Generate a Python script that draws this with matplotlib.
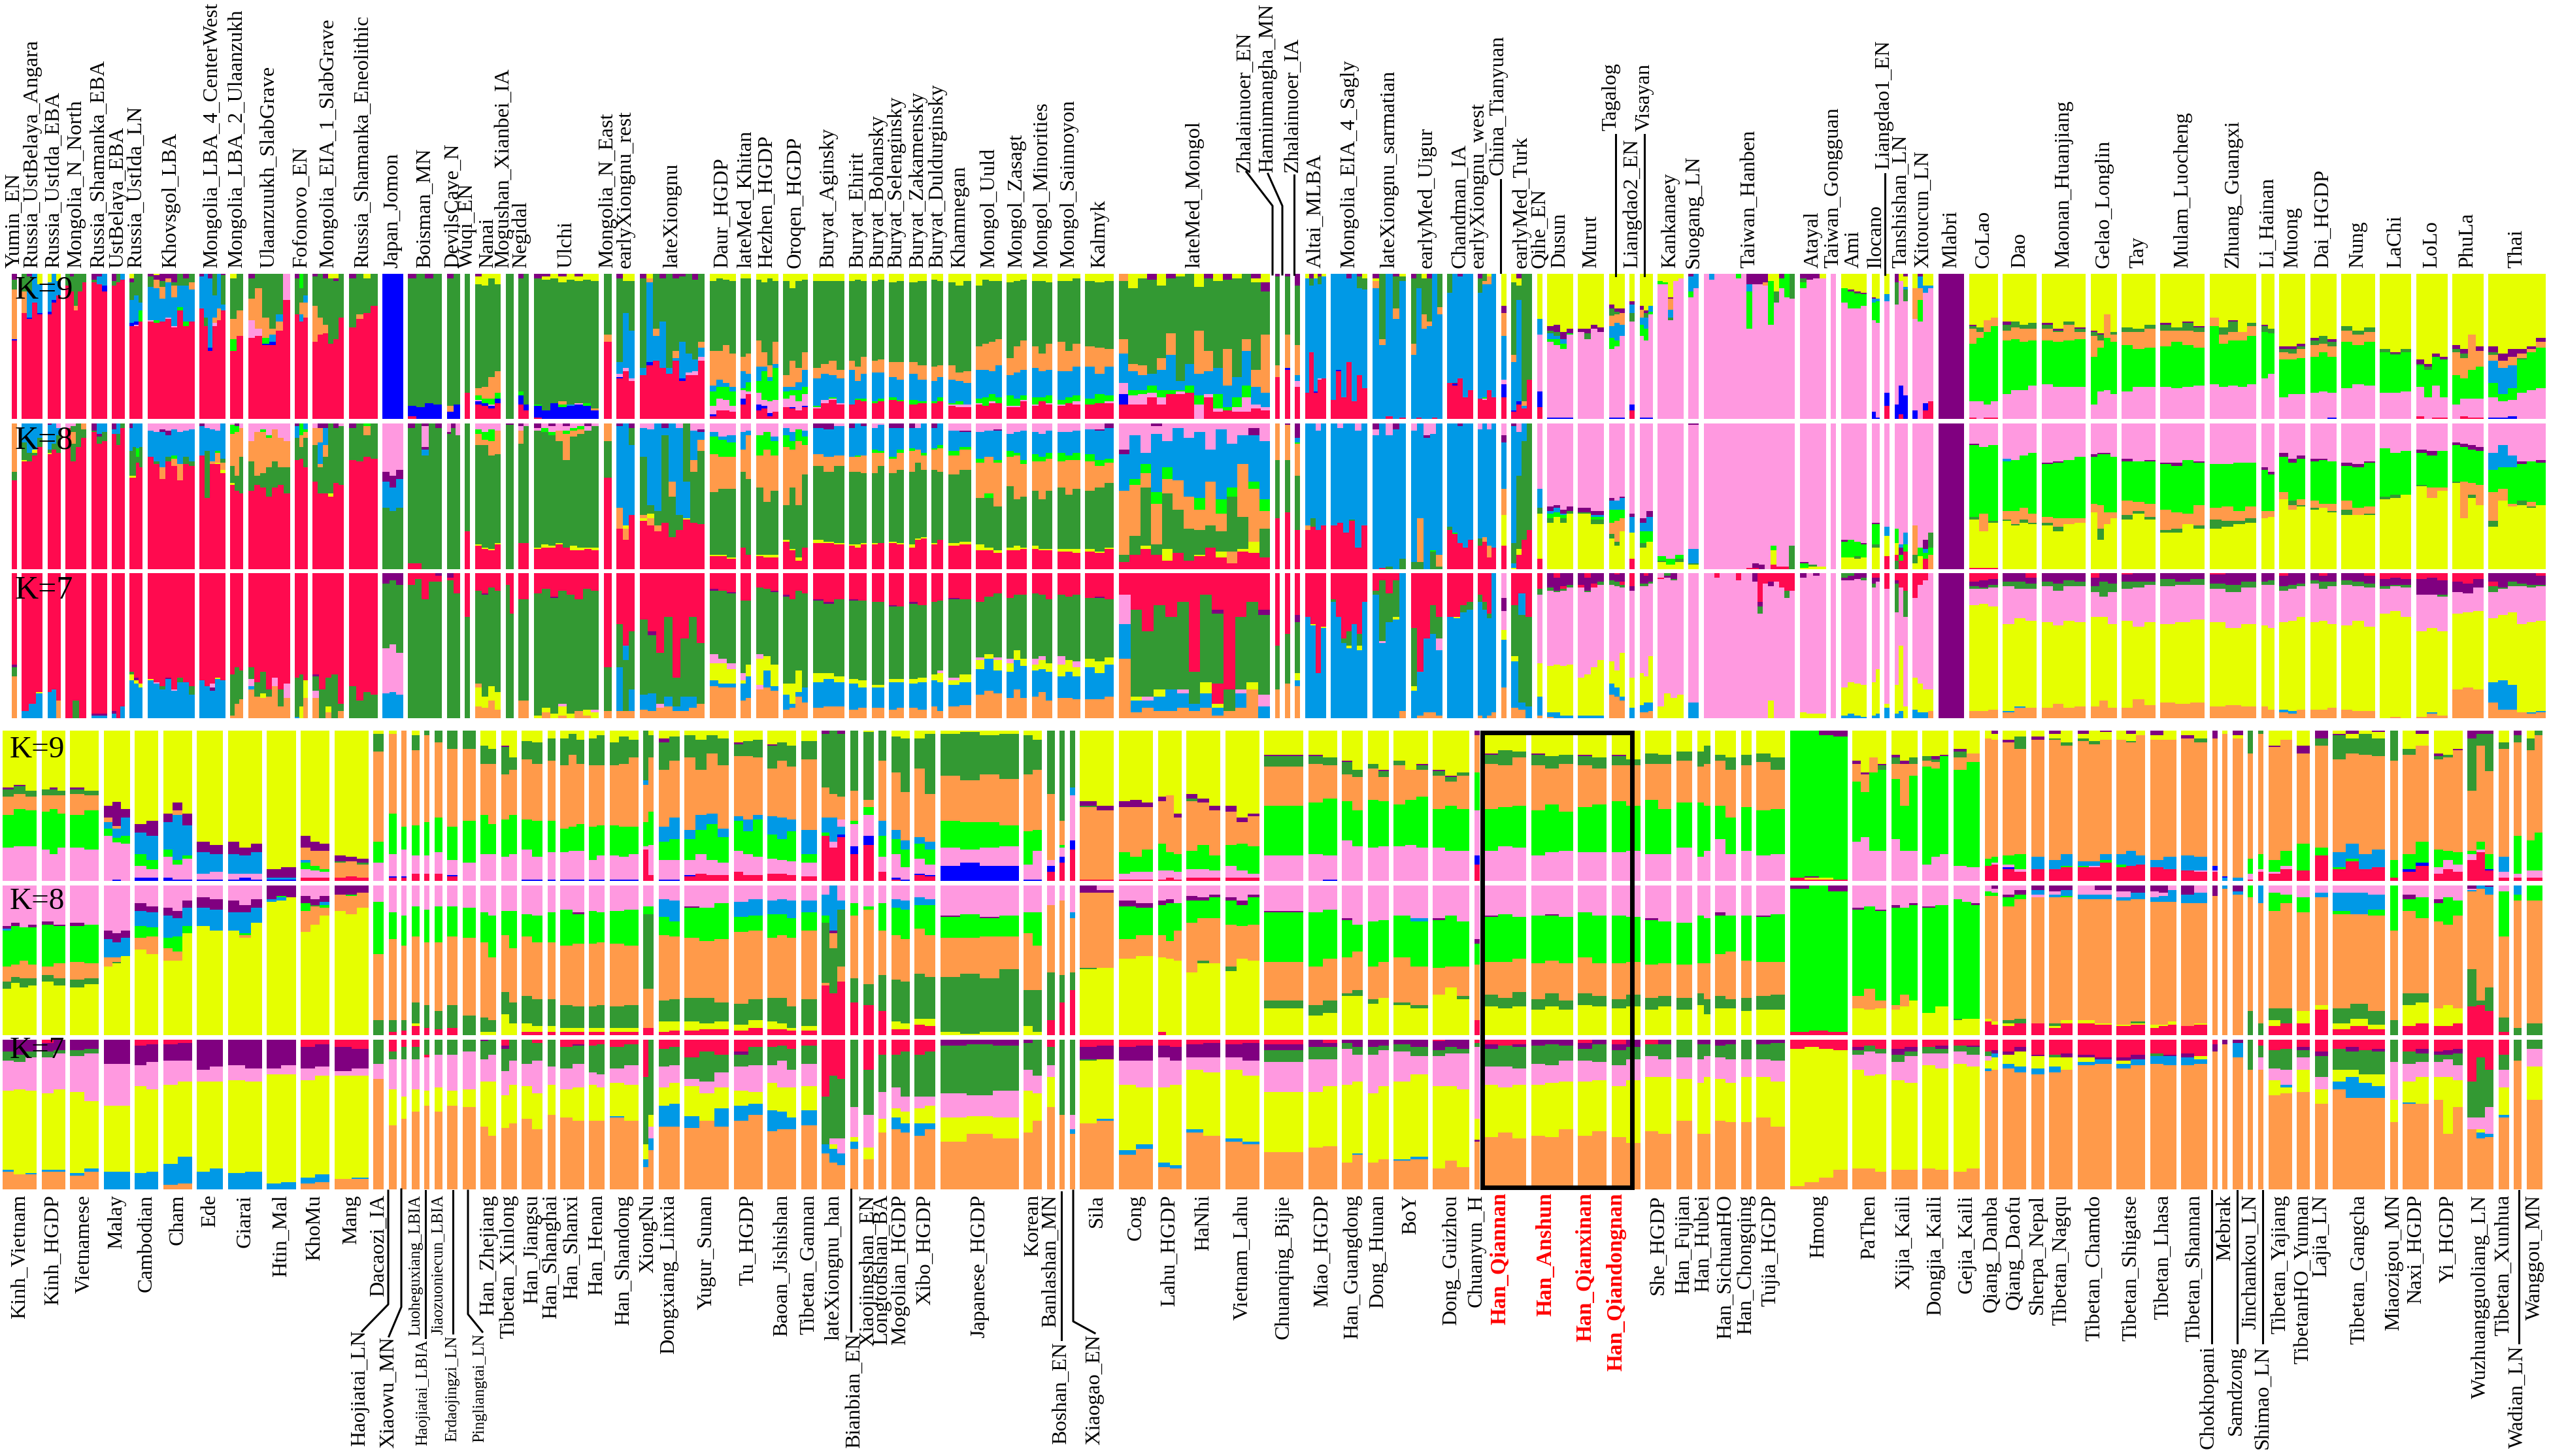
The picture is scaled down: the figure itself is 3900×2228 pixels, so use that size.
import matplotlib
matplotlib.use('Agg')
import matplotlib.pyplot as plt

plt.rcParams['font.family'] = ['Liberation Serif', 'DejaVu Serif']

# ancestry colours
colores = {'u': '#800080', 'y': '#E6FF00', 'g': '#339933', 'o': '#FF9A4A', 'c': '#0099E6',
           'l': '#00FF00', 'p': '#FF99E0', 'b': '#0000FF', 'r': '#FF0A4F'}

top_names = ['Yumin_EN', 'Russia_UstBelaya_Angara', 'Russia_UstIda_EBA', 'Mongolia_N_North', 'Russia_Shamanka_EBA',
             'UstBelaya_EBA', 'Russia_UstIda_LN', 'Khovsgol_LBA', 'Mongolia_LBA_4_CenterWest', 'Mongolia_LBA_2_Ulaanzukh',
             'Ulaanzuukh_SlabGrave', 'Fofonovo_EN', 'Mongolia_EIA_1_SlabGrave', 'Russia_Shamanka_Eneolithic', 'Japan_Jomon',
             'Boisman_MN', 'DevilsCave_N', 'Wuqi_EN', 'Nanai', 'Mogushan_Xianbei_IA', 'Negidal', 'Ulchi', 'Mongolia_N_East',
             'earlyXiongnu_rest', 'lateXiongnu', 'Daur_HGDP', 'lateMed_Khitan', 'Hezhen_HGDP', 'Oroqen_HGDP', 'Buryat_Aginsky',
             'Buryat_Ehirit', 'Buryat_Bohansky', 'Buryat_Selenginsky', 'Buryat_Zakamensky', 'Buryat_Duldurginsky', 'Khamnegan',
             'Mongol_Uuld', 'Mongol_Zasagt', 'Mongol_Minorities', 'Mongol_Sainnoyon', 'Kalmyk', 'lateMed_Mongol',
             'Zhalainuoer_EN', 'Haminmangha_MN', 'Zhalainuoer_IA', 'Altai_MLBA', 'Mongolia_EIA_4_Sagly', 'lateXiongnu_sarmatian',
             'earlyMed_Uigur', 'Chandman_IA', 'earlyXiongnu_west', 'China_Tianyuan', 'earlyMed_Turk', 'Qihe_EN', 'Dusun', 'Murut',
             'Tagalog', 'Liangdao2_EN', 'Visayan', 'Kankanaey', 'Suogang_LN', 'Taiwan_Hanben', 'Atayal', 'Taiwan_Gongguan', 'Ami',
             'Ilocano', 'Liangdao1_EN', 'Tanshishan_LN', 'Xitoucun_LN', 'Mlabri', 'CoLao', 'Dao', 'Maonan_Huanjiang',
             'Gelao_Longlin', 'Tay', 'Mulam_Luocheng', 'Zhuang_Guangxi', 'Li_Hainan', 'Muong', 'Dai_HGDP', 'Nung', 'LaChi', 'LoLo',
             'PhuLa', 'Thai']
top_sizes = [2, 8, 5, 8, 6, 5, 5, 18, 10, 5, 16, 5, 12, 11, 8, 13, 5, 2, 10, 3, 4, 25, 3, 7, 25, 10, 4, 8.5, 9.6, 12,
             6.8, 4.8, 5.8, 6.7, 4.6, 8.7, 10, 7.7, 8, 8.8, 11, 58, 2, 2, 2, 8, 14, 13, 12, 10, 7, 2, 8, 2, 10, 10,
             6, 2, 5, 10, 4, 35, 10, 2, 10, 3, 2, 5, 8, 10, 11, 13, 17, 10, 13, 17, 18, 5, 10, 10, 13, 12, 12, 12, 22]

top_k9 = [
    "u4 g7 o34 b1 r54",
    "g12 o15 r73/u2 g10 c18 b1 r69/c20 r80/y7 c20 b1 r72",
    "y6 c20 b2 r72/c18 b2 r80/y5 c10 r85",
    "g8 r92/u2 g10 r88/g22 o3 r75/g12 r88/g6 r94",
    "u4 g2 r94/u2 c5 r93/c8 b4 r88",
    "u5 g3 r92/g6 r94/c4 r96",
    "y3 u3 g12 c16 b2 r64/g15 c18 b2 p1 r64/g20 c5 l8 r67",
    "u2 g7 c23 p1 r67/y1 u3 o6 c22 l2 r66/u5 g4 o8 c16 r67/u3 o3 c24 p1 r69/u6 g2 o8 c20 p1 r63/g8 c15 l2 r75/u3 g5 c25 l3 r64/g6 o5 c22 r67",
    "u2 c22 r76/c30 g6 r64/u3 c48 b2 r47/g15 c15 o4 p2 r64/c24 o8 r68/u1 g20 c4 r75",
    "y3 g28 o14 l8 r47/g25 o18 r57",
    "u3 g14 o15 p12 r56/g10 o28 p5 r57/g30 o14 l4 b1 r51/g38 o4 c5 b2 r51/g28 c5 o6 r61/p18 r82",
    "u3 g25 r72/l10 g10 o8 c5 r67/g15 c5 o10 r70",
    "u2 g20 o25 r53/g30 o12 r58/u3 g32 o6 r59/y3 g45 r52/y3 u2 g40 r55/g30 r70",
    "u3 g34 r63/g28 o3 r69/y3 g24 r73/g22 r78",
    "b100",
    "u3 g88 b7 r2/g92 b8/u3 g86 b11/g90 b10",
    "u3 g88 o4 b5/g90 b10",
    "g82 r18",
    "u2 y5 g72 o5 l3 p1 b2 r10/y8 g70 o8 l3 b2 r9/y3 g68 o15 l4 p1 b2 r7/y7 g60 o15 l4 b3 r11",
    "g100",
    "u3 g78 l3 b6 r10/g90 b4 r6",
    "u3 g87 l1 b8 r1/u2 y2 g90 b6/y3 g86 b11/u2 y4 g82 o2 l2 b8/y4 g86 c1 b9/u2 y3 g84 p1 b10/y4 g85 l2 b9/y5 g88 o1 b6",
    "g42 o5 r53",
    "u3 g58 c8 p2 b1 r28/y5 g22 c38 p2 r33/y5 g34 c33 p2 r26",
    "u3 g62 c5 r30/y3 o3 c55 b2 r37/g38 o5 c17 r40/u3 g30 c32 r35/g65 c4 r31/u3 g50 o5 c2 r40/u2 g45 c25 b2 r26/g55 c13 p2 r30/u4 g55 c8 p3 r30/g47 o4 c6 p3 r40",
    "y5 g48 o24 c4 l10 p6 b1 r2/y3 g50 o20 c5 l8 p8 r6/y4 g45 o26 c3 l9 p7 r6/y5 g50 o23 c3 l10 p4 r5",
    "y3 g54 o10 c12 l1 p6 b4 r10/y3 g52 o14 c6 l6 p2 r17",
    "y4 g42 o18 c10 l8 p8 b4 r6/y6 g48 o10 c3 l20 p4 b2 r7/y3 g60 o8 c3 l14 p8 b2 r2/y5 g42 o15 c3 l22 p8 r5",
    "y5 g65 o8 c3 l5 p6 r8/y10 g50 o18 c2 l4 p8 b1 r7/y5 g60 o10 c5 l8 p6 r6/y4 g50 o12 c12 l5 p8 b1 r8",
    "y5 g60 o7 c19 l1 p1 r7/y5 g57 o7 c18 p2 r11/y5 g55 o10 c15 l1 p1 r13/y5 g61 o6 c17 p1 r10",
    "y5 g55 o6 c24 r10/y4 g60 o10 c12 l1 r13/y5 g52 o12 c17 l2 r12",
    "y5 g55 o8 c20 l1 r11/y4 g55 o9 c18 l2 r12",
    "y6 g55 o10 c14 l2 r13/y5 g56 o12 c14 l1 r12",
    "y6 g55 o8 c18 l3 r10/y5 g58 o10 c15 l1 r11",
    "y4 g60 o10 c14 l1 r11/y5 g58 o8 c14 l3 r12",
    "y6 g57 o10 c16 l1 p1 r9/y8 g60 o6 c14 l2 p2 r8/y5 g62 o8 c15 p2 r8",
    "y8 g42 o16 c20 l3 p1 r10/y4 g44 o18 c19 l6 r9/y5 g42 o20 c16 l5 p1 r11/y5 g40 o18 c22 l4 r11",
    "y6 g52 o12 c14 l7 p1 r8/y5 g45 o18 c18 l5 p1 r8/y4 g42 o20 c18 l3 p1 r12",
    "y5 g45 o15 c20 l5 p1 r9/y5 g50 o12 c18 l3 r12/y6 g42 o18 c18 l5 p1 r10",
    "y5 g42 o20 c20 l3 p1 r9/y5 g48 o14 c18 l4 r11/y3 g45 o16 c20 l4 p2 r10",
    "y5 g45 o14 c22 l4 r10/y6 g45 o18 c14 l6 r11/y5 g47 o12 c20 l4 p1 r11",
    "o5 g40 o10 c20 p8 b7 r10/y10 g52 o5 c13 l4 p6 r10/y3 g60 o7 c10 l3 p7 r10/u4 g65 c8 l5 p3 r15/y8 g50 o8 c14 l5 p5 r10/u3 g38 o15 c24 l3 r17/y2 g72 c6 l1 p2 r17/g62 c15 l5 r18/y9 g30 o30 c15 l6 p10/u3 g50 o14 c16 p2 r15/y5 g60 c18 l10 p2 r5/u4 g48 o25 c15 l2 r6/y3 g68 c14 l7 p3 r5/g45 o8 c24 l8 p10 r5/u3 y3 g60 o12 c12 p3 r7/y6 u6 g30 o40 c10 p2 r6",
    "u2 g61 o8 r29",
    "u2 g40 o23 b1 r34",
    "u8 g41 o21 c4 p4 r22",
    "y3 c79 r18/u3 g5 c46 r46/y3 c78 b1 r18/u2 g5 c65 p1 r27/y2 c70 r28",
    "c87 r13/c66 b1 r33/c85 r15/u3 c58 r39/c88 r12/u2 g8 c60 r30/y3 g8 c68 r21",
    "u3 y2 o5 c90/g45 o4 c51/c98 r2/u2 g22 o7 c69/y2 g3 c94 r1",
    "u3 g45 o8 c44/g10 c89 r1/y3 g25 o10 c62/u3 g30 o3 c64/c99 r1/g23 o5 c72",
    "g13 c62 r25/c75 u1 b1 r23/u2 c70 r28/c85 r15/c80 r20",
    "u3 g10 c73 r14/g5 o2 c78 l1 p1 r13/y2 o5 c73 r20/c85 r15",
    "y22 u5 o16 c30 p3 b9 r15",
    "y6 g50 o5 c33 b1 r5/u3 y5 g10 c70 b2 r10/g88 o3 c2 r7/g73 r27",
    "y31 c11 p39 b11 r8",
    "y36 u3 g2 c4 l2 p52 b1/y35 u5 g3 c2 l4 p50 b1/y40 u5 c3 l4 p47 b1/y38 u3 l1 p57 b1",
    "y38 u2 p60/y38 u3 g4 p55/y35 u3 p62/y37 u3 p60",
    "y21 u3 g5 o7 c8 l8 p47 b1/y24 u2 g2 o6 c12 l4 p49 b1/y24 u3 o8 c8 p56 b1",
    "y19 u2 c6 g6 p57 b4 r6",
    "y22 u3 o5 c5 l8 p56 b1/y25 u2 g3 c8 l8 p53 b1/y22 c4 l2 p71 b1",
    "y5 l2 p93/y6 l1 p93/y16 u1 o8 c5 g2 p68/y5 p95/y3 p97",
    "u2 c10 l4 p84/c10 p90",
    "p100/c4 p96/p100/p100/p100/p100/l3 p97/p100/u7 c5 l26 p62/u7 p93/u7 p93/u6 o2 p92/y5 l30 p65/y12 g8 p80/u3 l7 p90/l16 p84/g17 p83",
    "u3 g3 l4 p90/u4 p96/u3 p97/y3 p97",
    "p100",
    "y10 l10 p80/y11 u1 l12 p76/y12 u1 g1 l10 p76/y13 u1 l8 p78",
    "y16 u1 c3 l12 p63 b5/y17 c2 l15 p65 b1",
    "y14 c5 p63 b9 r9",
    "u6 g15 p69 b10/y5 p72 b20 r3/u2 y7 c2 g8 p65 b16",
    "y10 o21 p63 b6/u2 c8 o8 l15 p67/y8 c5 p76 b5 r6/y8 c2 p78 r12",
    "u100",
    "y35 u1 g2 o10 l40 p11 r1/y37 g3 o4 l44 p12/y32 o8 l50 p9 r1/y30 o6 l52 p11 r1",
    "y33 u2 g4 o7 l37 p17/y33 g4 o8 l35 p20/y35 g3 o9 l33 p20/y34 g4 o8 l31 p23",
    "y34 u1 g3 o8 l30 p24/y38 u1 g1 o7 l31 p22/y33 g2 o11 l32 p22/y37 u1 g2 o5 l33 p22",
    "y39 u1 g3 o14 l33 p10/y41 u1 g4 o5 l30 p19/y28 o16 l36 p20/y40 g2 o5 l36 p17",
    "y37 g3 o9 l32 p19/y38 g2 o12 l26 p22/y35 g3 o13 l27 p22",
    "y34 u1 g4 o11 l28 p22/y37 g2 o8 l32 p21/y33 u1 g5 o10 l29 p22/y36 u1 g3 o11 l26 p23",
    "y30 o6 l40 p24/y37 g5 o6 l30 p22/y32 u1 g7 o6 l31 p23/y40 o6 l32 p22/y34 g2 o7 l33 p24",
    "y35 u1 g4 l32 p28/y38 g3 l28 p31",
    "y50 u2 g2 o5 l26 p15/y50 u2 g3 o4 l24 p17/y48 u2 g2 o6 l25 p17",
    "y44 u2 g3 o8 l25 p18/y43 g5 o6 l27 p19/y45 u2 g3 o7 l25 p17 b1",
    "y36 g3 o8 l32 p21/y39 g3 o7 l27 p24/y37 g3 o7 l30 p23",
    "y52 g2 l28 p18/y54 u1 g1 l26 p18/y52 g2 l27 p19",
    "y59 u3 g1 l15 p20 r2/y62 u2 g2 l19 p15/y55 u2 l20 p22 r1/y57 u2 l26 p14 r1",
    "y49 u3 g2 o16 l20 p10/y52 u3 g3 o14 l14 p12 r2/y42 o24 l20 p13 r1/y50 u3 o11 l22 p13 r1",
    "y50 u4 g2 o4 c15 l10 p14 b1/y55 u5 o5 c18 l5 p11 b1/y52 u5 o6 c16 l8 p11 b2/y52 u3 o3 g1 l23 p18/y50 u2 o2 l26 p20/y44 u3 o4 l28 p21",
]

top_k8 = [
    "o33 g6 r61",
    "c13 g12 y1 r74/c20 g6 r74/c18 y2 g2 r78/c10 g6 r84",
    "u1 c17 g2 y1 r79/c14 g4 r82/p3 c5 g12 r80",
    "p3 r97/p2 g4 o8 g12 r74/g16 r84/o4 g6 r90",
    "u5 g1 r94/c7 u2 g5 r86/c6 g6 r88",
    "u4 c3 r93/c7 g8 r85/g3 r97",
    "u3 c16 g17 y1 r63/c16 g20 y1 r63/c17 l6 g4 r73/c16 g14 r70",
    "p5 c18 r77/p6 c20 g2 r72/p4 u2 c24 o8 r62/p5 u3 c15 g3 r74/p4 c18 l2 o5 r71/p6 c22 o11 r61/p5 c18 g5 r72/p4 c22 g3 r71",
    "u2 c20 r78/p3 c16 g32 r49/p4 c22 o2 r72/p5 c14 l1 o7 y1 r72/c24 g3 o5 y2 r66",
    "p1 l6 o22 g12 y1 r58/u2 l4 o30 g10 r54/p3 o20 g25 r52",
    "p12 o14 g20 r54/p6 o30 g6 r58/p4 l2 o28 g10 r56/p8 l2 o20 g20 r50/p4 o22 g18 r56/p10 o20 g12 r58/p12 o18 g18 r52",
    "u2 c8 g15 r75/l8 o8 g8 r76/c4 l2 o4 g20 r70",
    "p3 o12 g25 r60/u3 o10 c15 o2 g18 r52/u3 c12 o8 g25 r52/g48 y2 r50/u3 g38 r59/p2 g40 r58",
    "u3 g22 r75/g26 r74/l2 o6 g15 r77/g24 r76",
    "p33 u7 c18 g42/p36 u8 c16 g40/p32 u6 c20 g42",
    "u3 g93 r4/g96 r4/u2 p14 u2 c4 g78/g100/u3 g97",
    "p6 u1 g93/u3 g97/p8 g92",
    "g74 r26",
    "p4 l3 o8 g68 y1 r16/p6 l5 o4 g70 y1 r14/p4 l8 o10 g64 y1 r13/p5 o16 g61 y1 r17",
    "u1 g99",
    "u2 p3 o9 g68 r18/p2 g80 r18",
    "u3 p2 g80 y1 r14/p3 l3 g77 y2 r15/u2 p4 l2 g76 y1 r15/p5 o7 g70 y1 r17/u2 p3 l2 o18 g60 r15/p3 l2 o4 g75 y3 r13/p2 l2 o3 g78 y2 r13/u2 p3 g80 y1 r14/p2 g83 y2 r13",
    "o12 g25 r63",
    "u2 c56 o14 r28/c70 y2 o8 r20/u3 g12 c48 r37",
    "p3 c20 g40 o2 y2 r33/p4 c52 g6 y3 o5 r30/c60 g10 o4 r26/u3 c5 g60 r32/c40 o10 g28 r22/p3 c60 g10 r27/g40 c25 y1 r34/p5 c20 o8 g35 r32/p4 u2 c5 o8 g50 r31",
    "p6 c3 l12 o26 g43 y1 r9/p9 c2 l12 o22 g45 y1 r9/p8 c5 l10 o22 g47 y1 r7",
    "p6 c12 o15 g52 r15/p5 c3 o30 g52 r10",
    "p8 l14 o22 g46 y1 r9/p6 l12 o36 g36 y2 r8/p9 c3 l10 o24 g44 y2 r8",
    "p3 c5 l8 o40 g24 y1 r19/p6 c6 l6 o26 g42 y1 r13/p4 l8 o44 g36 y2 r6/p5 c4 l6 o20 g50 r15",
    "u3 c18 o8 g51 y2 r18/u4 c19 o10 g48 y1 r18/p2 c20 o7 g53 y1 r17",
    "u3 c20 o10 g50 y1 r16/c22 l1 o10 g50 y2 r15/u2 c20 o12 g48 y1 r17",
    "p3 c15 l2 o14 g48 y1 r17/p1 c18 l1 o9 g53 r18",
    "u3 c20 l1 o10 g47 y1 r18/u3 c15 l2 o12 g50 y1 r17",
    "u3 c14 l2 o14 g50 y2 r15/p3 c15 o9 g52 y1 r20/c20 l2 o10 g46 y1 r21",
    "u3 c14 l1 o14 g50 y1 r17/c15 l2 o16 g47 r20",
    "p5 c14 l3 o13 g47 y2 r16/p5 u1 c10 l2 o14 g49 y2 r17",
    "p6 c18 l3 o24 g32 y4 r13/p5 c18 o25 l3 g34 y2 r13/p4 u1 c20 l2 o30 g30 y2 r11",
    "p7 c12 l4 o20 g42 y2 r13/p6 c14 l2 o30 g32 y3 r13/p5 c20 l3 o22 g35 y1 r14",
    "p6 c15 l5 o20 g38 y2 r14/p7 c16 l3 o26 g34 y1 r13/p5 c15 l4 o22 g40 y1 r13",
    "p6 c14 l6 o18 g42 y2 r12/p6 c16 l3 o24 g37 y2 r12/p5 c15 l5 o20 g41 y3 r11",
    "p4 c17 l5 o20 g40 y2 r12/p4 u1 c20 l4 o15 g44 y1 r11/u3 c21 l3 o14 g44 y1 r14",
    "p18 u3 c25 o44 g5 r5/p8 c30 l4 o35 g13 r10/p20 c8 l6 o10 g40 y2 r14/u2 p5 c40 l8 o28 g7 r10/p12 c18 l8 o10 g38 y8 r6/p3 c36 o20 g30 r11/p10 c40 o22 g22 r6/p6 c45 l8 o14 g17 y1 r9/p18 c22 o30 g15 r15/p4 c48 l10 o12 g14 y4 r8/p14 c30 l6 g38 o8 r4/p8 c20 o36 g22 y2 r12/p3 u5 c32 l5 o36 y8 r11/p12 c40 l8 o12 g20 r8",
    "o25 g40 r35",
    "u1 o24 g36 r39",
    "u10 c3 l1 o22 g37 r27",
    "c70 o3 r27/c65 g6 r29/p5 c68 r27/c70 r30",
    "c70 r30/p3 c65 r32/c75 r25/c66 g1 r33/p5 c80 r15/c70 r30",
    "u4 p4 c92/c99 r1/p8 c90 g2/u4 c96/c93 g7",
    "p5 c90 g5/c65 o30 g5/p8 u2 c90/p7 c80 l1 g12/c90 o8 g2",
    "c71 g2 r27/c75 l1 r24/u2 c80 r18/c85 r15/c80 r20",
    "p4 c75 g5 r16/c78 o3 r19/p4 c80 o8 r8/c85 r15",
    "p8 u5 c32 o18 y21 r16",
    "u2 c80 g14 c3 y1/p6 c30 g50 y4 r10/c12 g68 r20/g73 r27",
    "p45 c13 g4 y31 r7",
    "p57 u3 c2 l3 g3 y32/p56 u2 c3 l3 y36/p59 u3 c1 l2 g3 y32/p57 u3 g2 y38",
    "p58 u3 g1 y38/p60 u3 c1 l2 g3 y31",
    "p51 u2 c6 l9 o8 g3 y21/p53 c6 l8 o14 g3 y16/p50 u1 c8 l6 o9 y26",
    "p62 u2 c11 y18 r7",
    "p65 u3 c6 l8 g3 y15/p60 u4 c10 l7 y19",
    "p91 l3 g1 y5/p93 l4 y3/p90 l3 g2 y5",
    "u1 p85 c10 g1 y3",
    "p100/p100/p100/p100/p100/p100/p100/p99 r1/p96 u3 r1/p97 u3/p100/p84 l3 y10 r3/p98 r2/p98 r2/p84 g16",
    "p95 u1 l3 y1/p97 g1 y2/p98 y2",
    "p100",
    "p80 u1 l11 y8/p80 l12 y8/p81 l10 g2 y7/p82 u1 l9 y8",
    "p68 u1 l14 g2 y15",
    "p71 c6 y14 r9",
    "p72 l10 y8 r4 g6/p83 c2 u5 l4 r6/p75 c8 l5 r12",
    "p70 o20 g6 y4/p85 l6 y9/p80 u6 c3 l4 r7/p75 g10 l5 o10",
    "u100",
    "p14 u1 l49 g2 y33 r1/p16 l46 o12 y25 r1/p15 l52 g1 y31 r1",
    "p24 c2 l34 o6 g1 y33/p25 l35 o9 g1 y30/p22 l36 o8 g2 y32/p20 l42 o6 g1 y31",
    "p27 u1 l36 o4 g2 y30/p26 u1 l38 o6 g3 y26/p25 l40 o4 y31/p23 l42 o3 y32",
    "p21 u2 l32 o6 y39/p20 u1 l35 o16 g8 y20/p20 u1 l40 o8 y31/p23 l38 o4 y35",
    "p24 u2 l27 o10 g3 y34/p26 l28 o6 g2 y38/p25 u1 l29 o9 g2 y34",
    "p27 u1 l31 o14 g2 y25/p27 u2 l32 o11 g3 y25/p25 l37 o7 y31/p26 u1 l29 o14 g2 y28",
    "p28 l30 o8 g6 y28/p28 l29 o10 g4 y29/p27 l33 o7 g2 y31/p27 l30 o8 g3 y32",
    "p30 u2 l28 o5 y35/p33 u2 l25 o4 y36",
    "p20 u3 l24 o5 y48/p24 u3 l26 g3 o3 y41/p22 u2 l28 o4 g1 y43",
    "p24 u2 l27 o5 g1 y41/p24 u1 l30 o3 y42/p26 l29 o5 g1 y39",
    "p27 u2 l24 o6 g4 y37/p28 u2 l28 o5 y37/p26 u1 l30 o5 g1 y37",
    "p17 l33 g2 y48/p20 l29 g2 y49/p19 l30 y51",
    "p18 u2 l22 g1 y57/p19 u3 l22 o7 y49/p19 l25 o2 y54",
    "p13 u2 l25 g1 y59/p14 u2 l24 o25 y35/p15 u3 l23 o8 g2 y49/p16 u3 l23 o14 y44",
    "p20 c12 l15 o20 g4 y29/p15 c15 l15 o8 y47/p22 c8 l25 o2 y43/p26 u2 l25 g3 y44/p26 l28 o3 g1 y42/p25 u2 l29 y44",
]

top_k7 = [
    "r63 u2 g6 o29",
    "r95 c5/r90 c10/r82 y1 c17",
    "r82 c18/r80 c20/r88 o12",
    "r100/r88 g12/r100",
    "r97 u1 c2",
    "r95 u2 c3/r100/r92 c8",
    "r68 g2 y4 c26/r72 u2 y2 c24/r76 y3 c21",
    "r73 y1 c26/r75 p1 c24/r78 g2 c20/r72 u1 c27/r80 p1 c19/r72 g3 c25/r75 c25/r78 g6 c16",
    "r74 c26/r78 c22/r76 p3 u2 c19/r72 y1 c27/r74 c26",
    "r70 g28 o2/r65 g25 o10/r67 g20 o13",
    "r65 g8 p5 c2 o20/r75 g10 o15/r68 g15 y3 o14/r80 g5 o15/r72 p6 o22/r80 g12 o8/r76 p10 o14",
    "r72 g27 c1/r70 g22 y8/r74 y12 o14",
    "r70 u1 g10 p5 o14/r80 g20/r72 g20 y4 o4/r70 g30/r90 g5 o5",
    "r78 g22/r88 g12/r82 g18/r84 g16",
    "u7 g45 p31 c17/u5 g44 p33 c18/u8 g47 p29 c16",
    "r8 g92/r4 g96/r18 g82/r6 g94/u2 r4 g94",
    "u3 r2 g95/r14 g86",
    "r30 g70",
    "r12 g64 o3 y13 o8/r14 u1 g70 y8 o7/r10 g68 y10 o12/r12 g70 y12 o6",
    "r8 g92/r28 g72",
    "r18 g70 o12",
    "r14 g84 y2/r11 g82 y3 o4/r16 u1 g80 y3/r12 g78 p2 y6 o2/r15 g82 y3/r18 g77 o5/r11 g83 y4 o2/r12 g82 p2 y4",
    "r65 g30 o5",
    "r35 g30 c30 o5/r50 c10 g35 o5/r40 g40 c15 o5",
    "r32 g52 c10 o6/r40 u3 g40 c12 o5/r55 g35 p3 o7/r30 g55 c7 o8/r72 g20 c3 o5/r45 g40 c10 o5/r30 g55 c8 o7/r48 g42 o10",
    "r11 u1 g44 p6 y12 c4 o22/r12 g47 p3 y14 c3 o21/r13 u1 g48 p4 y10 c3 o21",
    "r19 g50 p5 y2 c12 o12/r19 g44 y8 c15 o14",
    "r10 g46 p3 y18 p3 o20/r11 g46 y10 c12 o21/r12 u1 g50 y15 c3 o19",
    "r15 u1 g60 y8 c10 o6/r18 g58 y14 c3 o7/r12 g55 y15 c3 o15/r14 g65 c10 o11",
    "r18 u1 g50 y6 c18 o7/r20 u1 g48 y4 c19 o8/r18 g53 y4 c17 o8",
    "r18 u1 g54 y3 c18 o6/r19 g55 y5 c14 o7",
    "r20 g57 y2 c14 o7",
    "r22 u1 g50 y2 c19 o6/r23 g50 y2 c18 o7",
    "r20 u1 g52 y3 c17 o7/r22 g50 y3 c19 o6",
    "r20 g50 y4 c18 o8/r19 g48 p2 y6 c20 o5",
    "r17 u1 g54 p2 y3 c15 o8/r18 g52 y5 c16 o9",
    "r20 g38 p2 y6 c18 o16/r16 g40 y3 c22 o19/r14 g44 p2 y7 c16 o17",
    "r17 g42 p3 y6 c18 o14/r15 g38 y7 c20 o20/r15 g44 y5 c22 o14",
    "r14 g45 p4 y4 c18 o15/r15 g42 p3 y6 c16 o18/r18 g44 y6 c20 o12",
    "r15 g42 p6 y8 c15 o14/r16 g44 y8 c18 o14/r15 g46 p4 y6 c16 o13",
    "r17 g42 y6 c22 o13/r16 u1 g44 y8 c18 o13/r18 g40 y5 c22 o15",
    "r15 p20 c24 o41/r25 g60 y3 c8 o4/r40 g45 p3 c5 o7/r22 g58 y5 c10 o5/r30 g50 c15 o5/r20 g60 p3 c10 o7/r68 g22 c5 o5/r15 g60 y8 c10 o7/r25 u3 g48 r14 y3 c5 o2/r80 g15 o5/r30 g50 p3 c10 o7/r20 g55 y5 o20/r25 u4 g55 p8 c8",
    "r50 g30 o20",
    "r42 g34 o24",
    "r29 u5 g35 y5 c4 o22",
    "r30 c70/r35 y1 c64/r69 c31/r37 y1 c62",
    "r18 g2 c80/r30 c70/r45 g3 c52/r40 g10 y2 c48/r35 c65/r42 g8 y3 c47/r20 c80",
    "r12 g3 c85/r5 g42 p1 c52/r14 g20 c66/r5 g25 y2 c68/c95 o5",
    "r38 g40 y3 c19/r68 c30 o2/r45 c51 o4/r22 g20 c54 o4/r30 g15 p8 c45 o2",
    "r30 c70/r30 y1 c69/r22 g5 c73/r20 g5 c75",
    "r15 g5 c78 o2/r20 g5 c75/r28 g3 c67 o2/c96 o4",
    "p17 u9 p13 y7 c33 o21",
    "r22 g35 y4 c32 o7/r14 c15 g60 c5 o6/r30 g62 c8",
    "r11 g4 p47 y23 c13 o2",
    "u10 g2 p52 y32 c3 o1/r3 u9 g1 p50 y33 c4/u9 r2 g1 p52 y34 c2/u8 g2 p53 y35 c2",
    "u8 r2 p62 y26 c2/r3 u9 g1 p57 y28 c2/u7 r3 p55 y33 c2/u6 g2 p52 y38 c2",
    "u5 g3 p53 y15 c8 o16/r1 u5 g3 p58 y12 c6 o15/u6 r2 g2 p45 y30 c3 o12",
    "r9 u3 p60 y21 c7",
    "u7 g2 p60 y22 c5 o4/r2 u5 g2 p62 y18 c7 o4/u6 g1 p50 y32 c6 o5",
    "p3 r1 p88 y8/g2 u1 p80 y17/u4 g1 p81 y14/p84 y16",
    "p89 c11",
    "p100/p100/r3 p97/p100/p100/p100/r5 p95/p100/p100/u6 p94/r20 u3 g5 p72/r7 p93/r6 u3 p79 y12/r6 p94/r10 p90/r12 g5 p83/r12 p88",
    "u3 p93 y4/p96 y3/u2 p95 y3/p97 y3",
    "p100",
    "g3 u2 p74 y19 c2/g2 u3 p70 y22 c3/u4 p72 y22 c2/u3 g2 p72 y22 c1",
    "r3 u4 g3 p65 y23 c2/r3 u3 p60 y31 c3",
    "r11 p79 y3 c7",
    "r5 u2 g20 p50 y20 c3/r10 p40 y45 c5/r12 g18 p62 y8",
    "r17 p55 y22 c6/r8 p68 y20 c4/r5 p75 y16 c4/p80 y15 o5",
    "u100",
    "r6 u3 g2 p11 y73 o5/r5 u5 g1 p10 y74 o5/r4 u4 g2 p13 y71 o6",
    "u6 g3 p26 y60 c1 o4/u6 g5 p20 y61 c1 o7/r3 u4 g4 p22 y60 o7",
    "u6 g3 p25 y59 o7/u7 g5 p24 y54 o10/u5 g4 p24 y60 o7/u6 g3 p25 y58 o8",
    "r3 u6 g4 p17 y62 o8/u6 g10 p14 y58 o12/u7 g6 p22 y58 o7",
    "r1 u5 g5 p22 y60 o7/u6 g4 p27 y50 o13/u6 g2 p26 y57 o9",
    "u4 g5 p26 y54 o11/u6 g2 p26 y56 o10/u4 g4 p24 y57 o11",
    "r1 u6 g4 p23 y58 o8/u8 g5 p25 y53 o9/u6 g4 p25 y57 o8",
    "u6 g2 p28 y56 o8/u5 g3 p30 y56 o6",
    "r2 u7 g3 p22 y60 c2 o4/u8 g3 p22 y62 c2 o3/u7 g2 p21 y64 o6",
    "u5 g2 p27 y60 o6/r2 u4 g5 p22 y61 o6/u6 g3 p26 y58 o7",
    "u5 g3 p28 y58 o6/u6 g3 p24 y62 o5/r2 u5 g3 p27 y58 o5",
    "r4 u5 g2 p17 y72/r3 u5 g1 p17 y73 o1/r4 u4 g2 p20 y70",
    "r4 u11 p25 y59 o1/r3 u12 p23 y58 c1 o3/r5 u10 g1 p24 y58 o2",
    "r6 u7 p15 y52 o20/r7 u7 p13 y52 o21/r4 u6 p16 y54 o20",
    "u6 r3 g4 p18 y44 c14 o11/u10 g1 p18 y45 c20 o6/u6 g3 p18 y50 c17 o6/u7 g2 p26 y61 o4/u8 g2 p24 y62 c1 o3/r2 u6 g1 p24 y62 c1 o4",
]

bot_names = ['Kinh_Vietnam', 'Kinh_HGDP', 'Vietnamese', 'Malay', 'Cambodian', 'Cham', 'Ede', 'Giarai', 'Htin_Mal', 'KhoMu',
             'Mang', 'Dacaozi_IA', 'Haojiatai_LN', 'Xiaowu_MN', 'Luoheguxiang_LBIA', 'Haojiatai_LBIA', 'Jiaozuoniecun_LBIA',
             'Erdaojingzi_LN', 'Pingliangtai_LN', 'Han_Zhejiang', 'Tibetan_Xinlong', 'Han_Jiangsu', 'Han_Shanghai', 'Han_Shanxi',
             'Han_Henan', 'Han_Shandong', 'XiongNu', 'Dongxiang_Linxia', 'Yugur_Sunan', 'Tu_HGDP', 'Baoan_Jishishan',
             'Tibetan_Gannan', 'lateXiongnu_han', 'Bianbian_EN', 'Xiaojingshan_EN', 'Longtoushan_BA', 'Mogolian_HGDP',
             'Xibo_HGDP', 'Japanese_HGDP', 'Korean', 'Banlashan_MN', 'Boshan_EN', 'Xiaogao_EN', 'Sila', 'Cong', 'Lahu_HGDP',
             'HaNhi', 'Vietnam_Lahu', 'Chuanqing_Bijie', 'Miao_HGDP', 'Han_Guangdong', 'Dong_Hunan', 'BoY', 'Dong_Guizhou',
             'Chuanyun_H', 'Han_Qiannan', 'Han_Anshun', 'Han_Qianxinan', 'Han_Qiandongnan', 'She_HGDP', 'Han_Fujian', 'Han_Hubei',
             'Han_SichuanHO', 'Han_Chongqing', 'Tujia_HGDP', 'Hmong', 'PaThen', 'Xijia_Kaili', 'Dongjia_Kaili', 'Gejia_Kaili',
             'Qiang_Danba', 'Qiang_Daofu', 'Sherpa_Nepal', 'Tibetan_Nagqu', 'Tibetan_Chamdo', 'Tibetan_Shigatse', 'Tibetan_Lhasa',
             'Tibetan_Shannan', 'Chokhopani', 'Mebrak', 'Samdzong', 'Jinchankou_LN', 'Shimao_LN', 'Tibetan_Yajiang',
             'TibetanHO_Yunnan', 'Lajia_LN', 'Tibetan_Gangcha', 'Miaozigou_MN', 'Naxi_HGDP', 'Yi_HGDP', 'Wuzhuangguoliang_LN',
             'Tibetan_Xunhua', 'Wadian_LN', 'Wanggou_MN']
bot_sizes = [13, 9, 11, 10, 9, 11, 10, 13, 11, 11, 13, 4, 3, 2, 3, 2, 3, 4, 5, 6, 6, 8, 3, 9, 6, 11, 4, 8, 17, 11, 11, 6, 9, 3,
             4, 3, 7, 8, 30, 7, 3, 2, 2, 13, 13, 9, 13, 13, 15, 11, 8, 8, 13, 14, 2, 16, 16, 11, 11, 10, 6, 5, 8, 4, 11, 22,
             13, 10, 10, 10, 5, 9, 5, 9, 13, 11, 10, 10, 2, 2, 4, 2, 2, 9, 5, 5, 20, 3, 10, 11, 10, 4, 3, 6]

bot_k9 = [
    "y38 u1 g5 o12 l22 p22/y36 u1 g5 o10 l25 p23/y40 g4 o9 l24 p23",
    "y39 g4 o11 l25 p21/y38 u1 g4 o9 l30 p18/y40 g3 o12 l23 p22",
    "y38 u1 g3 o14 l22 p22/y40 g3 o10 l26 p21",
    "y50 u8 o3 c4 l5 p30/y48 u16 o2 c6 l3 p25 b1/y52 u6 c12 l5 p25",
    "y62 u6 c14 l8 p8 b2/y60 u10 c16 l6 p6 b2",
    "y55 u6 c18 l5 p14 b2/y48 u5 o3 c30 l3 p10 b1/y55 u8 c20 l2 p14 b1",
    "y74 u7 c14 p4 b1/y76 u6 c12 p5 b1",
    "y74 u8 c13 p4 b1/y78 u5 c12 p3 b2/y75 u6 c14 p4 b1",
    "y92 u6 c1 b1/y91 u7 c1 b1",
    "y70 u8 o8 c2 l4 p6 r2/y74 u6 o10 l3 p5 r2/y75 u5 o12 l2 p4 r2",
    "y83 u4 g1 o10 r2/y84 u3 o10 r3/y85 u3 g1 o9 r2",
    "y2 g12 o60 l14 p12",
    "y2 o53 l27 p15 b1 r2",
    "o64 l15 p18 b1 r2",
    "y3 g10 o50 l20 p12 r5",
    "g3 o58 l22 p12 r5",
    "g8 o50 l23 p14 r5",
    "g12 o52 l22 p10 b1 r3",
    "g12 o48 l28 p12",
    "y10 g12 o34 l26 p18/y12 g10 o40 l20 p18",
    "y10 u1 g18 o30 l25 p16/y18 g8 o30 l26 p18",
    "y7 g12 o40 l20 p20 b1/y8 g14 o38 l24 p15 b1",
    "y5 g15 o40 l21 p18 b1",
    "y5 g18 o42 l16 p18 b1/y2 g14 o48 l16 p19 b1/y6 g16 o40 l18 p19 b1",
    "y5 g18 o41 l22 p13 b1/y3 g20 o40 l20 p16 b1",
    "y8 g15 o40 l20 p16 b1/y4 g18 o42 l20 p15 b1/y6 g12 o46 l18 p17 b1",
    "g33 c3 o25 l16 p2 r21/y3 g15 o36 l22 p20 r4",
    "y5 u3 g18 o38 c10 l12 p13 b1/y4 g16 o38 c14 l14 p13 b1",
    "y3 g15 o48 c6 l14 p10 b1 r3/y6 g20 o30 c10 l16 p13 r5/y3 g12 o40 c7 l24 p10 r4/y5 g18 o42 c6 l17 p8 r4",
    "y8 u1 g8 o40 c3 l20 p14 r6/y7 g10 o42 c8 l15 p14 r4/y6 g12 o38 c3 l25 p12 r4",
    "y9 u1 g15 o32 c12 l16 p10 r5/y8 g12 o38 c14 l14 p9 r5/y10 g14 o35 c8 l20 p9 r4",
    "y7 g12 o47 c16 l6 p9 r3",
    "u2 g36 o20 c10 l2 r30/g42 o16 c16 p4 r22/u2 g42 o15 p5 c5 b2 r29",
    "g40 o20 l2 p15 b5 r18",
    "y1 g45 o5 l5 p14 b6 r24",
    "g20 o40 c10 l14 p10 r6",
    "y4 g24 o38 c6 l10 p16 b1 r1/y5 g36 o32 c6 l12 p8 b1",
    "y5 g20 o46 c4 l10 p10 b1 r4/y2 g40 o32 c5 l10 p7 b1 r3",
    "y2 g28 o30 l18 p12 b10/y1 g32 o28 l18 p9 b12/y3 g26 o32 l17 p12 b10/y2 g30 o31 l14 p13 b10",
    "y3 g26 o38 l22 p10 b1/y6 g20 o40 l14 p19 b1",
    "g42 o44 p4 b4 r6",
    "g60 o16 l2 p6 b4 r12",
    "g38 c5 p30 b6 r21",
    "y47 u3 g1 o48 r1/y50 u3 o46 r1",
    "y47 u4 o30 l14 p4 r1/y46 u5 o33 l10 p5 r1/y48 u3 o28 l15 p5 r1",
    "y44 u3 o28 l18 p6 r1/y43 o38 l12 p5 r2/y55 u3 o24 l12 p5 r1",
    "y42 u3 g2 o33 l12 p6 r2/y45 u3 o28 l16 p6 r2/y50 u3 o30 l10 p5 r2",
    "y50 u4 o22 l14 p8 r2/y58 u3 o14 l18 p5 r2/y55 u2 o20 l18 p3 r2",
    "y16 u1 g7 o26 l33 p17",
    "y16 u1 g5 o26 l34 p18/y18 g5 o22 l38 p16 b1",
    "y20 u1 g8 o18 l26 p27/y26 g5 o22 l24 p23",
    "y22 g3 o21 l32 p22/y26 u1 g4 o16 l30 p23",
    "y20 g3 o26 l28 p23/y26 o20 l30 p24/y22 u1 g3 o18 l34 p22",
    "y26 u1 g3 o22 l26 p22/y30 u1 g3 o16 l30 p20/y28 g2 o22 l28 p20",
    "u3 o25 l25 p30 b6 r11",
    "y15 u1 g6 o30 l28 p20/y13 g10 o28 l26 p23/y14 g4 o32 l28 p22",
    "y15 u1 g7 o30 l30 p17/y17 g8 o24 l32 p19/y16 g6 o32 l26 p20",
    "y16 u1 g6 o28 l30 p19/y18 g7 o24 l32 p19",
    "y16 u1 g6 o24 l34 p19/y19 g4 o27 l30 p20",
    "y15 g7 o24 l36 p18/y16 g6 o30 l30 p18",
    "y14 g6 o28 l30 p22",
    "y14 g10 o24 l36 p16/y10 g12 o28 l30 p20",
    "y16 g4 o30 l22 p28/y18 g8 o32 l24 p18",
    "y16 g7 o28 l29 p20",
    "y15 g6 o32 l30 p17/y18 g8 o26 l30 p18",
    "l98 r2/l97 u1 y1 r1/u3 l95 y1 r1/u4 l95 r1",
    "y20 u2 o12 l40 p26/y28 u1 o12 l30 p29/y18 o10 l52 p20/y22 u1 g3 l54 p20",
    "y16 u2 g4 o10 l40 p28/y20 u2 o28 l30 p20/y18 g4 o8 l50 p20",
    "y17 g3 o4 l65 p11/y17 u2 g2 o4 l59 p16/y16 u1 l65 p18",
    "y12 u2 g4 o8 l64 p10/y15 o6 l70 p9",
    "y5 o80 l5 r10/u2 y4 o78 l4 p1 r11",
    "y6 u2 o75 l6 p2 b1 r8/y4 g8 o70 l10 p2 r6",
    "y4 u2 o78 c8 r8",
    "u2 y3 g1 o80 c6 r8/y8 g2 o72 c8 l1 r9",
    "u2 y3 g2 o80 c3 l1 r9/y7 g2 o78 c3 p1 r9/u1 y5 o76 c4 l2 r12",
    "y6 o76 c7 l2 r9/u2 y5 g1 o72 c10 r10/y3 o80 c6 r11",
    "u3 y3 o80 c5 r9/y6 o78 c8 r8",
    "y3 u2 o78 c10 r7/y5 g3 o76 c9 p1 r6",
    "u5 o85 b3 p1 r6",
    "y2 o95 b1 c2",
    "u3 y2 o93 c2",
    "g15 o70 l10 p4 r1",
    "g2 o80 l10 p2 r6",
    "y10 u1 o75 l8 p1 r5/y6 o74 l10 p2 r8",
    "y10 u5 o60 l18 r7",
    "u5 g5 o68 l5 r17",
    "y2 u1 g16 o62 c10 l1 r8/u2 y3 g10 o60 c10 l2 r13/y2 g14 o66 c10 r8/u1 y4 g12 o62 c12 r9",
    "g20 o66 l12 r2",
    "y12 g4 o66 l10 b2 r6/u2 y8 o64 l14 b2 r10",
    "y15 u2 g2 o60 l12 p4 r5/y16 g2 o62 l6 p6 r8/y12 u1 o68 l8 p5 r6",
    "u5 g35 o40 l2 p4 r14/u2 g8 o64 l5 p2 r19/u2 g25 o55 l10 b1 r7",
    "y8 g4 o72 c10 p4 r2",
    "u3 g5 o62 l25 p3 r2",
    "y5 g8 o60 l20 p5 r2/g3 o65 l25 p5 r2",
]

bot_k8 = [
    "p27 u2 c1 l24 o10 g5 y31/p25 u2 l26 o8 g4 y35/p28 l22 o12 g6 y32/p26 u2 l25 o9 g5 y33",
    "p24 u2 l28 o6 g4 y36/p26 u1 l25 o10 g5 y33",
    "p25 u2 l24 o12 g5 y32/p26 l26 o10 g4 y34",
    "p30 u6 c12 o6 y46/p32 u6 c10 o3 g1 y48/p30 u5 c12 y53",
    "p12 u5 c10 l8 o8 y57/p14 u4 c10 l6 o12 y54",
    "p15 u5 c15 l7 o8 y50/p17 u5 c12 l10 o6 y50/p10 u5 c12 l5 y68",
    "p8 u7 c12 y73/p9 u7 c14 y70",
    "p10 u8 c12 y70/p13 u5 c14 l1 o2 y65/p9 u6 c10 y75",
    "u9 c2 y89/u7 l1 c2 y90/u8 y92",
    "p7 u5 l5 o14 y69/p9 u4 g1 o12 y74/p7 u4 c2 l2 o5 y80",
    "u6 o11 y83/u6 l1 o12 y81/u5 o10 y85",
    "p11 l35 o44 g10",
    "p18 l18 o54 g8 r2",
    "p20 l20 o50 g7 r3",
    "p14 l20 o44 g14 y2 r6",
    "p16 l22 o42 g15 r5",
    "p14 l24 o46 g12 r4",
    "p14 l20 o46 g15 r5",
    "p15 l20 o52 g13",
    "p18 l20 o50 g10 y2/p20 l28 o42 g8 y2",
    "p17 l16 o38 g15 y14/p17 l25 o36 g14 y8",
    "p19 l15 o40 g18 y6 r2/p20 l18 o38 g18 y4 r2",
    "p18 l20 o38 g18 y4 r2",
    "p16 l24 o40 g15 y3 r2/p18 u1 l20 o42 g14 y3 r2",
    "p17 l22 o42 g14 y3 r2/p18 l20 o42 g15 y3 r2",
    "p17 l22 o42 g14 y3 r2/p16 l24 o40 g15 y3 r2",
    "p14 l5 g50 o26 r5",
    "p9 c12 l12 o44 g14 y7 r2/p10 c14 l10 o42 g15 y6 r3",
    "p14 u1 l20 o40 g16 y6 r3/p15 l22 o38 g17 y4 r4/p12 l24 o42 g13 y5 r4",
    "p11 c10 l10 o48 g14 y4 r3/p9 c11 l10 o46 g14 y5 r5",
    "p10 c9 l16 o40 g16 y5 r4/p9 c10 l14 o42 g17 y4 r4/p10 c12 l13 o46 g14 y2 r3",
    "p10 c8 l12 o46 g18 y3 r3",
    "p6 c14 l5 g40 o2 r33/c30 u2 o10 g30 r28/p10 c6 g38 o10 r36",
    "p12 l8 o42 g16 r22",
    "p14 l2 o50 g14 r20",
    "p12 l18 o30 g24 r16",
    "p9 c6 l18 o30 g28 y5 r4/p10 c6 l20 o28 g28 y4 r4",
    "p8 c5 l16 o30 g30 y4 r7/p9 c4 l20 o28 g28 y5 r6",
    "p20 u1 l14 o26 g37 y2/p19 l16 o24 g40 y1/p21 u1 l12 o28 g36 y2/p20 l14 o22 g42 y2",
    "p18 l14 o38 g24 y6/p18 l22 o30 g28 y2",
    "p13 o45 g32 r10",
    "p10 o50 g18 r22",
    "p18 c4 o36 g12 r30",
    "u5 o50 g1 y44/p3 u2 o50 y45",
    "p10 u4 l22 o13 y51/p12 u3 l18 o14 y53",
    "p10 u3 l20 o15 y50 r2/p9 u3 l25 o12 y51/p12 l18 o20 y50",
    "p7 u3 l15 o33 y42/p8 u2 l12 o28 g2 y48/p6 u2 l14 o30 y48",
    "p8 u2 l16 o28 g3 y43/p10 u3 l14 o22 y51/p6 u2 l18 o24 y50",
    "p17 u1 l33 o26 g5 y18",
    "p18 l36 o26 g7 y13/p16 l33 o28 g8 y15",
    "p22 u1 l25 o24 g2 y26/p26 l18 o26 g4 y26",
    "p24 l30 o22 g3 y21/p23 l28 o24 y25",
    "p20 l28 o30 g2 y20/p22 c2 l30 o26 g2 y18",
    "p22 u1 l32 o18 y27/p20 l34 o14 y32/p24 l30 o20 g2 y24",
    "p36 u3 l14 o37 r10",
    "p20 u1 l30 o22 g8 y19/p19 l32 o24 g7 y18/p21 l28 o22 g10 y19",
    "p20 l32 o24 g7 y17/p19 u1 l30 o22 g9 y19/p21 l31 o25 g6 y17",
    "p18 l30 o24 g8 y20/p20 l32 o22 g7 y19",
    "p20 l32 o24 g6 y18/p21 l30 o22 g8 y19",
    "p22 u1 l30 o22 g8 y17/p24 l28 o22 g7 y19",
    "p25 l28 o22 g8 y17",
    "p20 l32 o20 g8 y20/p22 l30 o24 g10 y14",
    "p18 u2 l26 o28 g8 y18/p20 l24 o32 g6 y18",
    "p20 l30 o25 g9 y16",
    "p20 u1 l30 o23 g9 y17/p19 l32 o22 g10 y17",
    "u2 l96 r2/l97 r3/u4 l94 r2",
    "p15 u1 l58 o8 y18/p14 l55 o14 y17/p16 u1 l60 o5 y18",
    "p13 u2 l65 o3 y17/p15 l58 o8 y19/p12 u1 l64 y23",
    "p14 u1 l70 y15/p13 l68 y19",
    "p9 l80 g1 y10/p11 l78 y11/p12 u1 l76 y11",
    "p4 l3 o82 y2 r9/u2 p3 l2 o84 y2 r7",
    "p6 u2 l6 o76 g2 y2 r6/p3 u3 l3 o80 g3 r8",
    "u3 c3 p2 o84 r8",
    "u4 p2 c2 o84 g2 y1 r5/u3 c4 l1 o82 y2 r8",
    "p6 c3 o81 y2 r8/u3 p3 c3 o83 y1 r7",
    "u4 p4 c2 o83 y1 r6/u5 c4 o82 g1 y1 r7",
    "u4 p4 c3 o82 y2 r5/u5 p2 c4 o82 y1 r6/p3 c8 o80 y2 r7",
    "u6 c6 o82 r6/p5 c7 o80 y1 r7",
    "u7 o93",
    "c2 o98",
    "u4 c2 o94",
    "l8 o76 g16",
    "c12 o80 g8",
    "p5 l12 o65 g8 y4 r6/p6 l6 o70 g10 r8",
    "p8 l10 o66 y8 r8",
    "p5 c3 o72 y3 r17",
    "p5 c12 l2 o63 g10 y4 r4/p5 c14 o60 g10 y5 r6/p6 c10 l4 o64 g9 y3 r4",
    "l30 o60 g10",
    "p6 u3 l8 o55 g8 y14 r6/p8 l14 o50 g6 y14 r8",
    "p9 u3 l12 o58 y12 r6/p8 l18 o54 y14 r6/p10 l10 o62 y10 r8",
    "u2 p1 c1 o52 g25 r19/c2 o75 g3 r20/u1 c5 o62 g16 r16",
    "p4 l30 o54 g10 r2",
    "c6 l4 o85 g5",
    "l10 o82 g8",
]

bot_k7 = [
    "u8 g6 p20 y53 c1 o12/u10 g5 p18 y57 o10/u8 g4 p22 y55 c1 o10",
    "r2 u6 g4 p24 y51 c1 o12/u7 g2 p24 y54 c1 o12",
    "u7 g4 p24 y54 c2 o9/u6 g3 p32 y45 c2 o12",
    "u16 p28 y44 c12",
    "r4 u13 p14 y58 c11/r3 u12 p18 y55 c12",
    "r3 u11 p16 y53 c14 o3/r2 u12 p14 y50 c18 o4",
    "u20 p8 y60 c12/u18 p10 y58 c14",
    "u17 p10 y62 c11/u19 p9 y60 c12",
    "u19 p4 y73 c4/u17 p6 y72 c5",
    "r5 u14 p8 y65 c4 o4/r3 u15 p6 y66 c5 o5",
    "r5 u16 p3 y69 o7/r6 u13 p5 y68 c1 o7",
    "g16 p10 o74",
    "r8 g5 p20 y24 o43",
    "r5 g8 p25 y15 o47",
    "r5 g8 p20 y15 o52",
    "g10 r2 p22 y10 o56",
    "g10 p22 y16 o52",
    "g10 p24 y10 o56",
    "g8 p25 y12 o55",
    "u1 g12 p15 y30 o42/g10 p18 y36 o36",
    "r4 u2 g15 p16 y22 o41/g14 p16 y26 o44",
    "g16 p15 y22 o47/r2 g12 p22 y24 o40",
    "g18 p12 y20 o50",
    "r5 g14 p14 y19 o48/r3 u1 g12 p16 y22 o46",
    "r4 g18 p8 y24 o46/r3 g20 p9 y22 o46",
    "r5 g14 p10 y22 c1 o48/r3 g14 p13 y24 o46",
    "r25 g45 y10 c5 o15/g50 y8 p8 c8 o26",
    "r6 g12 p14 y12 c14 o42/r5 g12 p12 y14 c15 o42",
    "r12 g14 p5 y20 c8 o41/r8 g20 p8 y18 o46/r10 g12 p10 y14 c12 o42",
    "r8 u2 g8 p16 y10 c10 o46/r5 g12 p18 y8 c7 o50",
    "r5 g12 p12 y18 c14 o39/r4 g10 p18 y16 c12 o40/r6 g14 p12 y20 c8 o40",
    "r4 g12 p15 y16 c10 o43",
    "r38 g32 c6 o24/r24 g42 p4 y3 c9 o18/r26 g40 p10 c8 o16",
    "g45 p20 y3 c5 o27",
    "r20 g30 p22 y8 o20",
    "r10 g25 p18 y9 o38",
    "r10 g22 p14 y6 c8 o40/r8 g30 p10 y8 c6 o38",
    "r10 g28 p8 y10 c8 o36/r8 g30 p6 y12 c4 o40",
    "u4 g32 p16 y16 o32/u3 g34 p14 y12 o37/u4 g30 p18 y14 o34",
    "u2 g18 p14 y28 o38/g24 p12 y18 o46",
    "r5 g12 p8 y20 o55",
    "g50 o50",
    "g50 p10 c3 o37",
    "r5 u8 g1 y42 o44/r4 u9 y40 c1 o46",
    "r5 u9 p16 y44 c3 o23/r4 u10 p18 y38 c3 o27",
    "r4 u8 p20 y50 c3 o15/r5 u9 p16 y54 c2 o14",
    "r3 u9 p8 y40 c2 o38/r2 u10 p10 y42 o36",
    "r3 u9 p8 y46 c2 o32/r2 u12 p10 y44 c2 o30",
    "r3 u4 g8 p20 y40 o25",
    "u5 g8 p22 y37 o28/r2 u3 g8 p18 y40 o29",
    "u2 g4 p24 y52 o18/u5 g5 p18 y48 c1 o23",
    "u5 g5 p26 y46 o18/u4 g3 p24 y49 o20",
    "u3 g5 p20 y52 c1 o19/u5 g6 p12 y55 c2 o20",
    "r1 u6 g4 p20 y55 o14/u5 g4 p22 y50 o19/u6 g3 p24 y52 o15",
    "r2 g3 p48 y14 u1 o32",
    "r3 u3 g12 p12 y35 o35/r4 g14 p14 y30 o38/r3 u2 g14 p11 y36 o34",
    "u4 g12 p14 y34 o36/u3 g14 p12 y36 o35/u4 g10 p14 y32 o40",
    "r2 u4 g8 p14 y36 o36/u3 g12 p12 y34 o39",
    "r3 u4 g10 p14 y34 o35/u5 g8 p14 y42 o31",
    "r3 g8 p14 y36 o39/u3 g10 p12 y38 o37",
    "g12 p14 y28 o46",
    "u3 g10 p16 y34 o37/u3 g8 p14 y38 o37",
    "u4 g8 p14 y28 o46/u3 g10 p16 y26 o45",
    "g13 p12 y30 o45",
    "u3 g10 p12 y27 o48/u2 g12 p14 y30 o42",
    "r6 y92 o2/r5 y90 o5/r6 y86 o8/r7 y80 o13",
    "r5 u2 g3 p10 y66 o14/r4 g4 p16 y62 o14/r6 g3 p14 y65 o12",
    "r6 u4 g5 p12 y60 o13/r5 u3 g3 p18 y58 o13",
    "r5 g4 p8 y69 o14/r4 u2 g3 p10 y68 o13",
    "r4 g4 p8 y72 o12/r4 u1 g5 p8 y68 o14",
    "r8 g3 p3 y5 c2 o79/r7 u2 c3 y8 o80",
    "r8 u2 y6 c3 o81/r5 u3 y10 c4 o78",
    "r10 u1 y8 c4 o77",
    "r10 g2 y6 c4 o78/r9 u3 y8 o80",
    "r10 u2 y3 c2 o83/r12 u1 c3 o84",
    "r12 u2 y2 c3 o81/r10 u3 c4 o83",
    "r9 g2 c5 o84/r10 u1 c6 o83",
    "r9 u3 c5 o83/r11 y2 c3 o84",
    "r3 u5 o92",
    "u3 o97",
    "u2 c10 o88",
    "g20 o80",
    "r4 g8 p8 o80",
    "r7 g12 p8 y10 o63/r6 g14 p10 c2 y4 o64",
    "r5 u2 g5 p8 y15 o65",
    "r8 u3 g14 p8 y10 o57",
    "r6 g14 y8 c5 o67/r5 u3 g12 y5 c14 o61/r7 g16 y6 c10 o61/r6 u2 g15 y8 c8 o61",
    "g15 p25 y15 o45",
    "r8 g8 p12 y14 c1 o57/r6 u3 g6 p10 y18 o57",
    "r8 u2 g5 p10 y15 o60/r7 u3 g3 p12 y38 o37/r6 u3 g8 p10 y18 o55",
    "r28 g24 p8 o40/r12 g40 p8 y2 c4 o34/r20 g25 p18 c2 o35",
    "r10 g10 p12 y18 c2 o48",
    "g14 o86",
    "g6 p12 y22 o60",
]

for lista in (top_sizes, top_k9, top_k8, top_k7):
    assert len(lista) == len(top_names), len(lista)
for lista in (bot_sizes, bot_k9, bot_k8, bot_k7):
    assert len(lista) == len(bot_names), len(lista)

W, H = 3900, 2228
GAP = 1.875  # gap between populations, in individuals


def leer(entrada):
    # "u3 g97/g100" -> one list of (colour, share) per drawn column
    columnas = []
    for perfil in entrada.split('/'):
        trozos = [(t[0], float(t[1:])) for t in perfil.split()]
        total = sum(v for _, v in trozos)
        columnas.append([(c, v / total) for c, v in trozos])
    return columnas


def panel(y0, y1, x0, x1, datos, sizes):
    ax = fig.add_axes([x0 / W, 1 - y1 / H, (x1 - x0) / W, (y1 - y0) / H])
    pos = 0
    for entrada, n in zip(datos, sizes):
        cols = leer(entrada)
        ancho = n / len(cols)
        for j, col in enumerate(cols):
            arriba = 1.0
            for c, v in col:
                ax.bar(pos + j * ancho, v, ancho, bottom=arriba - v, align='edge',
                       color=colores[c], linewidth=0, antialiased=False)
                arriba -= v
        pos += n + GAP
    ax.set_xlim(0, pos - GAP)
    ax.set_ylim(0, 1)
    ax.axis('off')


def centros(sizes, x0, x1):
    total = sum(sizes) + GAP * (len(sizes) - 1)
    esc = (x1 - x0) / total
    res = []
    pos = 0
    for n in sizes:
        res.append(x0 + (pos + n / 2) * esc)
        pos += n + GAP
    return res


fig = plt.figure(figsize=(39, 22.28), dpi=100)

TOP_X = (18, 3895)
BOT_X = (4, 3890)
for (y0, y1), d in zip([(419, 641), (648, 871), (877, 1099)], [top_k9, top_k8, top_k7]):
    panel(y0, y1, TOP_X[0], TOP_X[1], d, top_sizes)
for (y0, y1), d in zip([(1118, 1348), (1355, 1584), (1591, 1820)], [bot_k9, bot_k8, bot_k7]):
    panel(y0, y1, BOT_X[0], BOT_X[1], d, bot_sizes)

# overlay in pixel coordinates for labels, leaders and the box
cap = fig.add_axes([0, 0, 1, 1])
cap.set_xlim(0, W)
cap.set_ylim(H, 0)
cap.axis('off')
cap.patch.set_alpha(0)

# labels moved away from the bars, with their leader lines
top_mov = {
    'Zhalainuoer_EN': (1905, 264, [(1907, 263), (1947, 315), (1947, 420)]),
    'Haminmangha_MN': (1940, 264, [(1940, 266), (1962, 315), (1962, 420)]),
    'Zhalainuoer_IA': (1978, 264, [(1980, 268), (1980, 420)]),
    'China_Tianyuan': (2292, 268, [(2296, 275), (2296, 417)]),
    'Tagalog': (2465, 200, [(2472, 206), (2472, 422)]),
    'Visayan': (2516, 201, [(2516, 206), (2516, 422)]),
    'Liangdao1_EN': (2882, 259, [(2884, 266), (2884, 420)]),
}
# labels only shifted sideways from the centre of their group
top_x = {'Mogushan_Xianbei_IA': 770, 'Negidal': 797, 'earlyXiongnu_west': 2262}
bot_x = {'Han_Qiannan': 2295, 'Han_Anshun': 2365, 'Han_Qianxinan': 2426, 'Han_Qiandongnan': 2473}
bot_mov = {
    'Haojiatai_LN': (551, 2035, [(594, 1822), (594, 1996), (554, 2037)]),
    'Xiaowu_MN': (595, 2045, [(614, 1820), (614, 2000), (595, 2045)]),
    'Haojiatai_LBIA': (647, 2050, [(651, 1822), (651, 2047)]),
    'Erdaojingzi_LN': (692, 2043, [(693, 1822), (693, 2040)]),
    'Pingliangtai_LN': (734, 2040, [(716, 1822), (716, 2011), (738, 2038)]),
    'Bianbian_EN': (1307, 2040, [(1302, 1820), (1302, 2037)]),
    'Boshan_EN': (1623, 2053, [(1624, 1824), (1624, 2050)]),
    'Xiaogao_EN': (1675, 2042, [(1642, 1822), (1642, 2022), (1675, 2040)]),
    'Chokhopani': (3379, 2059, [(3384, 1822), (3384, 2055)]),
    'Samdzong': (3421, 2059, [(3423, 1822), (3423, 2055)]),
    'Shimao_LN': (3462, 2059, [(3462, 1822), (3462, 2055)]),
    'Wadian_LN': (3852, 2059, [(3854, 1822), (3854, 2055)]),
}
pequenas = {'Luoheguxiang_LBIA', 'Haojiatai_LBIA', 'Jiaozuoniecun_LBIA', 'Erdaojingzi_LN', 'Pingliangtai_LN'}
rojas = {'Han_Qiannan', 'Han_Anshun', 'Han_Qianxinan', 'Han_Qiandongnan'}

for nombre, x in zip(top_names, centros(top_sizes, *TOP_X)):
    y = 410
    x = top_x.get(nombre, x)
    if nombre in top_mov:
        x, y, linea = top_mov[nombre]
        cap.plot([p[0] for p in linea], [p[1] for p in linea], color='black', lw=2.2)
    cap.text(x, y, nombre, rotation=90, ha='center', va='bottom', fontsize=23.3)

for nombre, x in zip(bot_names, centros(bot_sizes, *BOT_X)):
    y = 1828
    x = bot_x.get(nombre, x)
    if nombre in bot_mov:
        x, y, linea = bot_mov[nombre]
        cap.plot([p[0] for p in linea], [p[1] for p in linea], color='black', lw=2.2)
    if nombre in rojas:
        cap.text(x, 1825, nombre, rotation=90, ha='center', va='top', fontsize=24,
                 color='#FF0000', fontweight='bold')
    else:
        cap.text(x, y, nombre, rotation=90, ha='center', va='top',
                 fontsize=18 if nombre in pequenas else 23.3)

# K labels on top of the bars
for y, t in [(444, 'K=9'), (674, 'K=8'), (904, 'K=7')]:
    cap.text(22, y, t, fontsize=36, va='center', ha='left')
for y, t in [(1148, 'K=9'), (1380, 'K=8'), (1608, 'K=7')]:
    cap.text(15, y, t, fontsize=34, va='center', ha='left')

# box round the Guizhou Han groups
cap.plot([2268, 2497, 2497, 2268, 2268], [1121, 1121, 1817, 1817, 1121], color='black', lw=5, solid_joinstyle='miter')

fig.savefig('out.png', dpi=100)
